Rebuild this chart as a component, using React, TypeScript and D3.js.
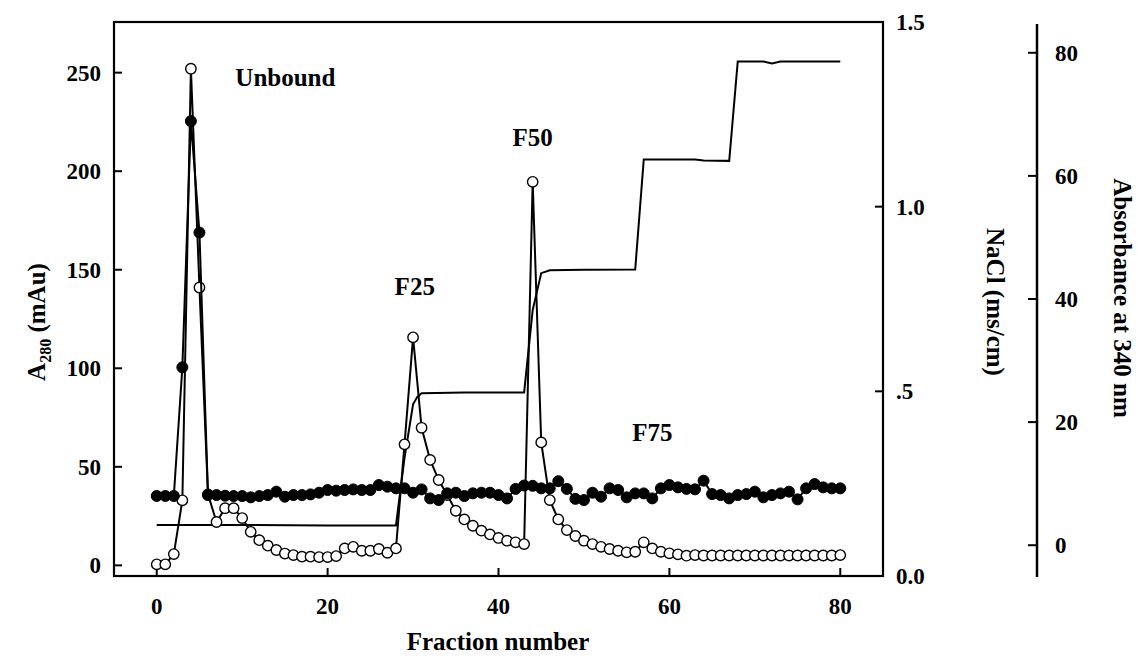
import React from "react";
import * as d3 from "d3";

// ---- data ----
const fractions = d3.range(0, 81);

// A280 (mAu), open circles
const a280Values = [
  0.5, 0.5, 5.7, 33, 252, 141, 36, 22, 29, 29,
  24, 17, 12.8, 10, 7.8, 6, 5.2, 4.4, 4.4, 4.2,
  4.2, 4.7, 8.6, 9.4, 7.4, 7.4, 8.3, 6.4, 8.6, 61.4,
  115.7, 69.8, 53.5, 43.3, 35.7, 27.7, 23.3, 20.1, 17.6, 15.7,
  13.9, 12.5, 11.7, 10.8, 194.6, 62.4, 33.1, 23.3, 17.9, 14.9,
  12.5, 10.8, 9.4, 8.3, 7.4, 6.6, 6.9, 11.7, 8.6, 6.9,
  6.1, 5.6, 4.9, 5.2, 5.0, 5.0, 5.0, 5.0, 5.0, 5.0,
  5.0, 5.0, 5.0, 5.0, 5.0, 5.0, 5.0, 5.0, 5.0, 5.0, 5.2,
];

// Absorbance at 340 nm, filled circles
const a340Values = [
  8.0, 8.0, 8.0, 28.9, 68.9, 50.8, 8.15, 8.15, 8.04, 7.99,
  7.99, 7.78, 7.99, 8.15, 8.7, 7.88, 8.15, 8.15, 8.26, 8.53,
  8.97, 8.86, 8.97, 9.07, 8.97, 8.97, 9.78, 9.51, 9.24, 9.24,
  8.53, 9.07, 7.61, 7.34, 8.43, 8.53, 7.99, 8.43, 8.53, 8.53,
  8.15, 7.6, 9.15, 9.7, 9.65, 9.24, 9.24, 10.4, 9.15, 7.53,
  7.34, 8.53, 7.88, 9.24, 8.97, 7.78, 8.42, 8.42, 7.61, 9.24,
  9.78, 9.4, 9.15, 9.08, 10.49, 8.31, 8.15, 7.61, 8.15, 8.31,
  8.7, 7.78, 8.15, 8.42, 8.7, 7.45, 9.24, 9.94, 9.4, 9.24, 9.24,
];

// NaCl conductivity trace
const naclFractions = [0, 10, 20, 28, 29, 30, 30.5, 31, 36, 40, 43, 44, 45, 46, 50, 56, 57, 60, 63, 64, 67, 68, 71, 72, 73, 76, 80];
const naclValues = [0.138, 0.138, 0.137, 0.137, 0.32, 0.465, 0.485, 0.495, 0.497, 0.497, 0.497, 0.72, 0.82, 0.828, 0.829, 0.83, 1.128, 1.128, 1.128, 1.125, 1.124, 1.393, 1.393, 1.388, 1.393, 1.393, 1.393];

const xTicks = [0, 20, 40, 60, 80];
const a280Ticks = [0, 50, 100, 150, 200, 250];
const naclTicks = [0, 0.5, 1.0, 1.5];
const naclTickLabels = ["0.0", ".5", "1.0", "1.5"];
const a340Ticks = [0, 20, 40, 60, 80];

const peakLabels = ["Unbound", "F25", "F50", "F75"];
const peakLabelX = [9.2, 30.2, 44.0, 58.0];
const peakLabelA280 = [243, 137, 213, 63];
const peakLabelAnchor = ["start", "middle", "middle", "middle"];

const FONT = "'Liberation Serif', 'Times New Roman', serif";

export default function App() {
  const left = 114, right = 883, top = 22, bottom = 576;
  const x = d3.scaleLinear().domain([-5, 85]).range([left, right]);
  const yA = d3.scaleLinear().domain([-5.4, 275.7]).range([bottom, top]);
  const yN = d3.scaleLinear().domain([0, 1.5]).range([bottom, top]);
  const yB = d3.scaleLinear().domain([-5, 85]).range([bottom, top]);

  const openPts: [number, number][] = fractions.map((f, i) => [x(f), yA(a280Values[i])]);
  const filledPts: [number, number][] = fractions.map((f, i) => [x(f), yB(a340Values[i])]);
  const naclPts: [number, number][] = naclFractions.map((f, i) => [x(f), yN(naclValues[i])]);
  const line = d3.line();

  const axis3X = 1037;
  const fs = 23;
  const ts = 25;

  return (
    <svg width={1138} height={664} style={{ position: "absolute", left: 0, top: 0, background: "#fff" }}
      fontFamily={FONT} fontWeight="bold">
      <rect x={0} y={0} width={1138} height={664} fill="#fff" />
      {/* frame */}
      <rect x={left} y={top} width={right - left} height={bottom - top} fill="none" stroke="#000" strokeWidth={2.2} />

      {/* x ticks */}
      {xTicks.map((t) => (
        <g key={"xt" + t}>
          <line x1={x(t)} x2={x(t)} y1={bottom} y2={bottom - 8} stroke="#000" strokeWidth={2} />
          <text x={x(t)} y={614} textAnchor="middle" fontSize={fs}>{t}</text>
        </g>
      ))}
      <text x={498} y={650} textAnchor="middle" fontSize={ts}>Fraction number</text>

      {/* left ticks */}
      {a280Ticks.map((t) => (
        <g key={"yt" + t}>
          <line x1={left} x2={left + 8} y1={yA(t)} y2={yA(t)} stroke="#000" strokeWidth={2} />
          <text x={101} y={yA(t)} dy="0.35em" textAnchor="end" fontSize={fs}>{t}</text>
        </g>
      ))}
      <text transform="translate(45,322) rotate(-90)" textAnchor="middle" fontSize={ts}>
        A<tspan fontSize={16} dy={6}>280</tspan><tspan dy={-6}> (mAu)</tspan>
      </text>

      {/* NaCl axis ticks */}
      {naclTicks.map((t, i) => (
        <g key={"nt" + t}>
          <line x1={right - 8} x2={right} y1={yN(t)} y2={yN(t)} stroke="#000" strokeWidth={2} />
          <text x={896} y={yN(t)} dy="0.35em" textAnchor="start" fontSize={fs}>{naclTickLabels[i]}</text>
        </g>
      ))}
      <text transform="translate(987,302) rotate(90)" textAnchor="middle" fontSize={ts}>NaCl (ms/cm)</text>

      {/* third axis */}
      <line x1={axis3X} x2={axis3X} y1={24} y2={577} stroke="#000" strokeWidth={2.5} />
      {a340Ticks.map((t) => (
        <g key={"bt" + t}>
          <line x1={axis3X - 9} x2={axis3X} y1={yB(t)} y2={yB(t)} stroke="#000" strokeWidth={2} />
          <text x={1055} y={yB(t)} dy="0.35em" textAnchor="start" fontSize={fs}>{t}</text>
        </g>
      ))}
      <text transform="translate(1114,298) rotate(90)" textAnchor="middle" fontSize={ts}>Absorbance at 340 nm</text>

      {/* NaCl line */}
      <path d={line(naclPts) || ""} fill="none" stroke="#000" strokeWidth={2} />

      {/* open circles series */}
      <path d={line(openPts) || ""} fill="none" stroke="#000" strokeWidth={2} />
      {openPts.map((p, i) => (
        <circle key={"o" + i} cx={p[0]} cy={p[1]} r={5.2} fill="#fff" stroke="#000" strokeWidth={1.4} />
      ))}

      {/* filled circles series */}
      <path d={line(filledPts) || ""} fill="none" stroke="#000" strokeWidth={2} />
      {filledPts.map((p, i) => (
        <circle key={"f" + i} cx={p[0]} cy={p[1]} r={5.5} fill="#000" stroke="#000" strokeWidth={1} />
      ))}

      {/* peak labels */}
      {peakLabels.map((s, i) => (
        <text key={s} x={x(peakLabelX[i])} y={yA(peakLabelA280[i])} textAnchor={peakLabelAnchor[i]} fontSize={ts}>{s}</text>
      ))}
    </svg>
  );
}
